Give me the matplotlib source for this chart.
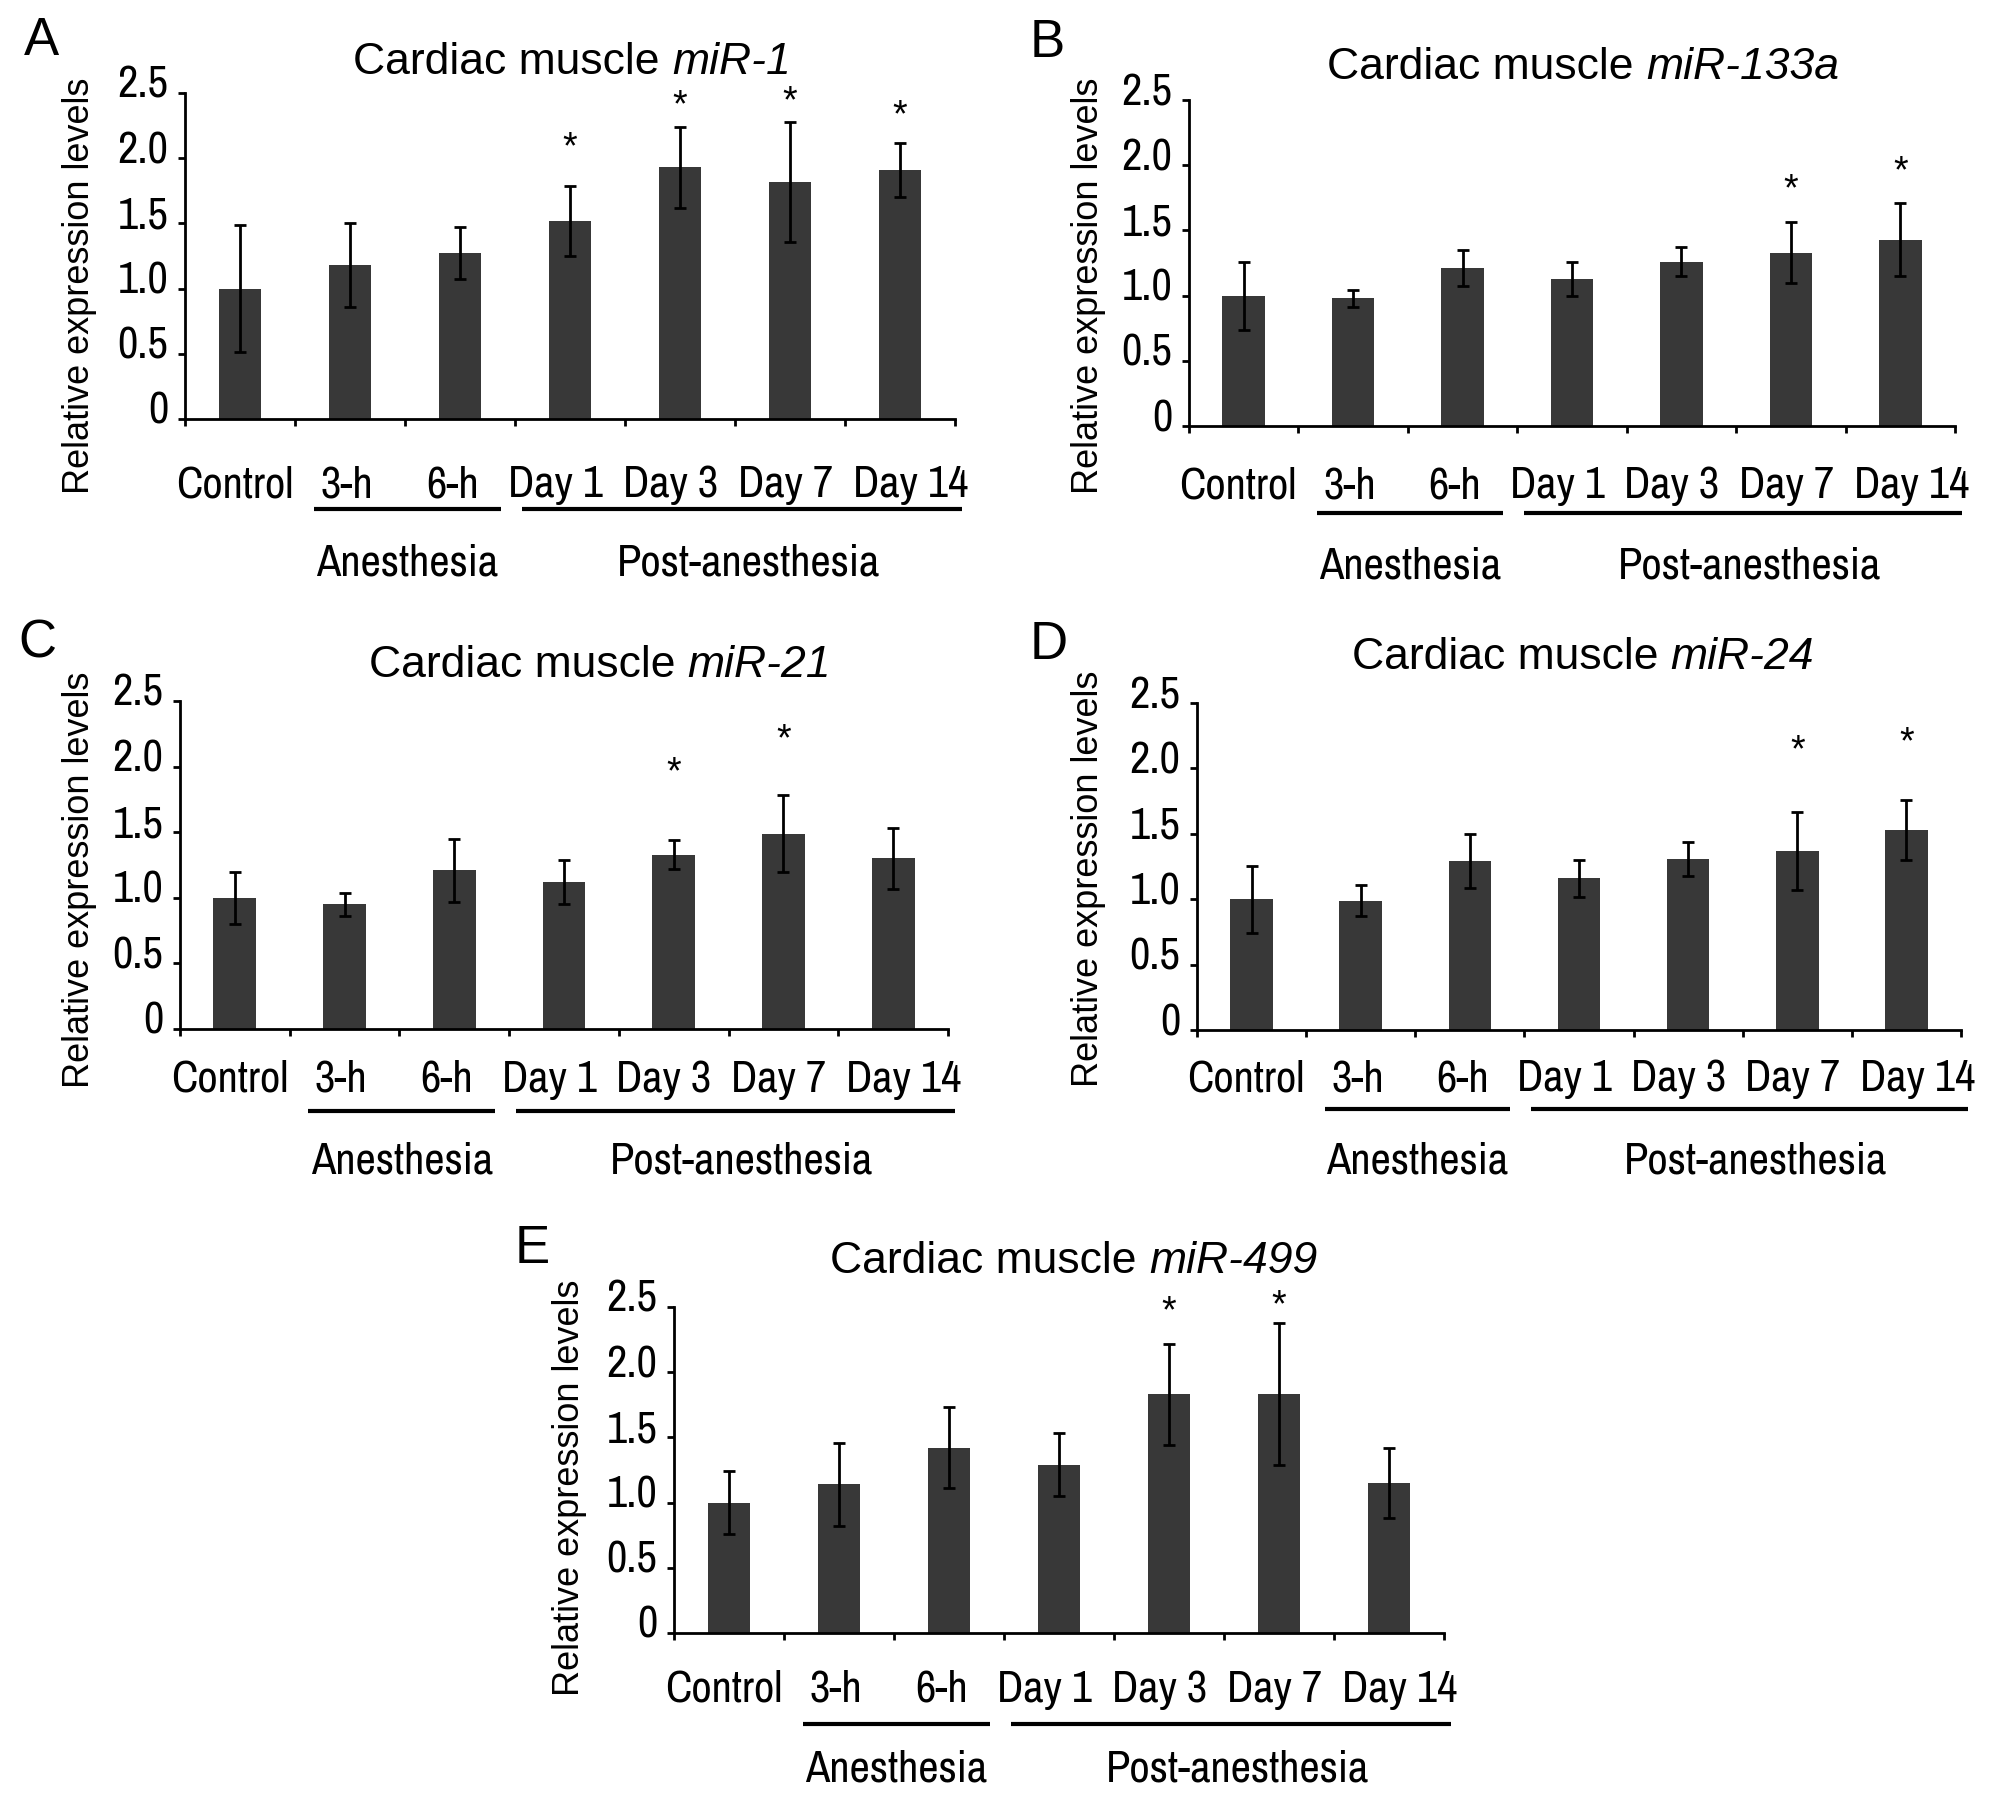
import numpy as np
import matplotlib
matplotlib.use('Agg')
import matplotlib.pyplot as plt
from matplotlib import font_manager, transforms

W, H = 1994, 1802

categories = ['Control', '3-h', '6-h', 'Day 1', 'Day 3', 'Day 7', 'Day 14']
groups = ['Anesthesia', 'Post-anesthesia']
yticks = [0, 0.5, 1.0, 1.5, 2.0, 2.5]
ytick_labels = ['0', '0.5', '1.0', '1.5', '2.0', '2.5']

# mean, error, asterisk heights (index -> y)
mir1_mean = [1.00, 1.18, 1.27, 1.52, 1.93, 1.82, 1.91]
mir1_err = [0.49, 0.32, 0.20, 0.27, 0.31, 0.46, 0.21]
mir1_star = {3: 2.17, 4: 2.49, 5: 2.52, 6: 2.41}

mir133a_mean = [1.00, 0.98, 1.21, 1.13, 1.26, 1.33, 1.43]
mir133a_err = [0.26, 0.065, 0.14, 0.13, 0.11, 0.235, 0.28]
mir133a_star = {5: 1.90, 6: 2.04}

mir21_mean = [1.00, 0.95, 1.21, 1.12, 1.33, 1.49, 1.30]
mir21_err = [0.20, 0.09, 0.24, 0.165, 0.11, 0.295, 0.23]
mir21_star = {4: 2.04, 5: 2.29}

mir24_mean = [1.00, 0.99, 1.29, 1.16, 1.31, 1.37, 1.53]
mir24_err = [0.255, 0.12, 0.205, 0.14, 0.13, 0.30, 0.23]
mir24_star = {5: 2.22, 6: 2.28}

mir499_mean = [1.00, 1.14, 1.42, 1.29, 1.83, 1.83, 1.15]
mir499_err = [0.24, 0.32, 0.31, 0.24, 0.39, 0.545, 0.27]
mir499_star = {4: 2.55, 5: 2.60}

# small horizontal nudges of the category labels, as in the original layout
label_nudge = [-0.05, -0.03, -0.07, -0.13, -0.09, -0.04, 0.10]


def pick(names):
    for n in names:
        try:
            font_manager.findfont(font_manager.FontProperties(family=n),
                                  fallback_to_default=False)
            return n
        except ValueError:
            pass
    return 'DejaVu Sans'


NARROW = pick(['Liberation Sans Narrow', 'Arial Narrow', 'Archivo Narrow',
               'Roboto Condensed', 'Barlow Condensed', 'Liberation Sans'])
SANS = pick(['Liberation Sans', 'Arial', 'DejaVu Sans'])

fig = plt.figure(figsize=(W / 100, H / 100), dpi=100)


def fy(p):
    return 1 - p / H


def fx(p):
    return p / W


# panel layout in pixels
panels = [
    dict(gene='miR-1', mean=mir1_mean, err=mir1_err, star=mir1_star, letter='A',
         left=185, width=770, y0=419, top=93, lpos=(24, 55), tpos=(572, 74),
         ypos=(80, 286), cat_base=497, line_y=509, grp_base=576),
    dict(gene='miR-133a', mean=mir133a_mean, err=mir133a_err, star=mir133a_star, letter='B',
         left=1189, width=766, y0=426, top=100, lpos=(1030, 57), tpos=(1583, 79),
         ypos=(1088, 286), cat_base=498, line_y=513, grp_base=579),
    dict(gene='miR-21', mean=mir21_mean, err=mir21_err, star=mir21_star, letter='C',
         left=180, width=768, y0=1029, top=701, lpos=(18, 657), tpos=(600, 677),
         ypos=(80, 880), cat_base=1092, line_y=1111, grp_base=1173),
    dict(gene='miR-24', mean=mir24_mean, err=mir24_err, star=mir24_star, letter='D',
         left=1197, width=764, y0=1030, top=703, lpos=(1030, 659), tpos=(1583, 669),
         ypos=(1088, 879), cat_base=1091, line_y=1109, grp_base=1173),
    dict(gene='miR-499', mean=mir499_mean, err=mir499_err, star=mir499_star, letter='E',
         left=674, width=770, y0=1633, top=1307, lpos=(515, 1263), tpos=(1074, 1273),
         ypos=(569, 1488), cat_base=1702, line_y=1724, grp_base=1781),
]

bar_color = '#383838'
x = np.arange(len(categories))

fig.canvas.draw()
renderer = fig.canvas.get_renderer()

for p in panels:
    ax = fig.add_axes([fx(p['left']), fy(p['y0']), fx(p['width']),
                       (p['y0'] - p['top']) / H])
    ax.bar(x, p['mean'], width=0.39, color=bar_color, zorder=2)
    ax.errorbar(x, p['mean'], yerr=p['err'], fmt='none', ecolor='black',
                elinewidth=2.0, capsize=4, capthick=2.0, zorder=3)
    for i, ys in p['star'].items():
        ax.annotate('*', (i, ys), xytext=(0, -22), textcoords='offset pixels',
                    ha='center', va='baseline', fontsize=27, family=SANS,
                    annotation_clip=False)

    ax.set_xlim(-0.5, 6.5)
    ax.set_ylim(0, 2.5)
    ax.spines['top'].set_visible(False)
    ax.spines['right'].set_visible(False)
    ax.spines['left'].set_linewidth(2.0)
    ax.spines['bottom'].set_linewidth(2.0)
    ax.set_xticks(np.arange(-0.5, 7, 1))
    ax.set_xticklabels([])
    ax.set_yticks(yticks)
    ax.set_yticklabels(ytick_labels, family=NARROW, fontsize=32)
    ax.tick_params(axis='both', direction='out', length=5, width=2.0)
    ax.tick_params(axis='y', pad=7)
    shift = transforms.ScaledTranslation(0, 11 / 100, fig.dpi_scale_trans)
    for lbl in ax.get_yticklabels():
        lbl.set_transform(lbl.get_transform() + shift)

    blend = transforms.blended_transform_factory(ax.transData, fig.transFigure)
    for i, c in enumerate(categories):
        ax.text(i + label_nudge[i], fy(p['cat_base']), c, transform=blend,
                ha='center', va='baseline', fontsize=32, family=NARROW,
                clip_on=False)
    ax.plot([0.67, 2.37], [fy(p['line_y'])] * 2, transform=blend, color='black',
            lw=3, clip_on=False, solid_capstyle='butt')
    ax.plot([2.56, 6.56], [fy(p['line_y'])] * 2, transform=blend, color='black',
            lw=3, clip_on=False, solid_capstyle='butt')
    ax.text(1.52, fy(p['grp_base']), groups[0], transform=blend, ha='center',
            va='baseline', fontsize=32, family=NARROW, clip_on=False)
    ax.text(4.62, fy(p['grp_base']), groups[1], transform=blend, ha='center',
            va='baseline', fontsize=32, family=NARROW, clip_on=False)

    # y label and panel letter
    fig.text(fx(p['ypos'][0]), fy(p['ypos'][1]), 'Relative expression levels',
             rotation=90, ha='center', va='center', fontsize=26, family=SANS)
    fig.text(fx(p['lpos'][0]), fy(p['lpos'][1]), p['letter'], ha='left',
             va='baseline', fontsize=38, family=SANS)

    # title: regular part + italic gene name, centred together
    t1 = fig.text(0, fy(p['tpos'][1]), 'Cardiac muscle ', ha='left',
                  va='baseline', fontsize=32, family=SANS)
    t2 = fig.text(0, fy(p['tpos'][1]), p['gene'], ha='left', va='baseline',
                  fontsize=32, family=SANS, style='italic')
    w1 = t1.get_window_extent(renderer).width
    w2 = t2.get_window_extent(renderer).width
    start = p['tpos'][0] - (w1 + w2) / 2
    t1.set_x(fx(start))
    t2.set_x(fx(start + w1))

fig.savefig('out.png', dpi=100, facecolor='white')
